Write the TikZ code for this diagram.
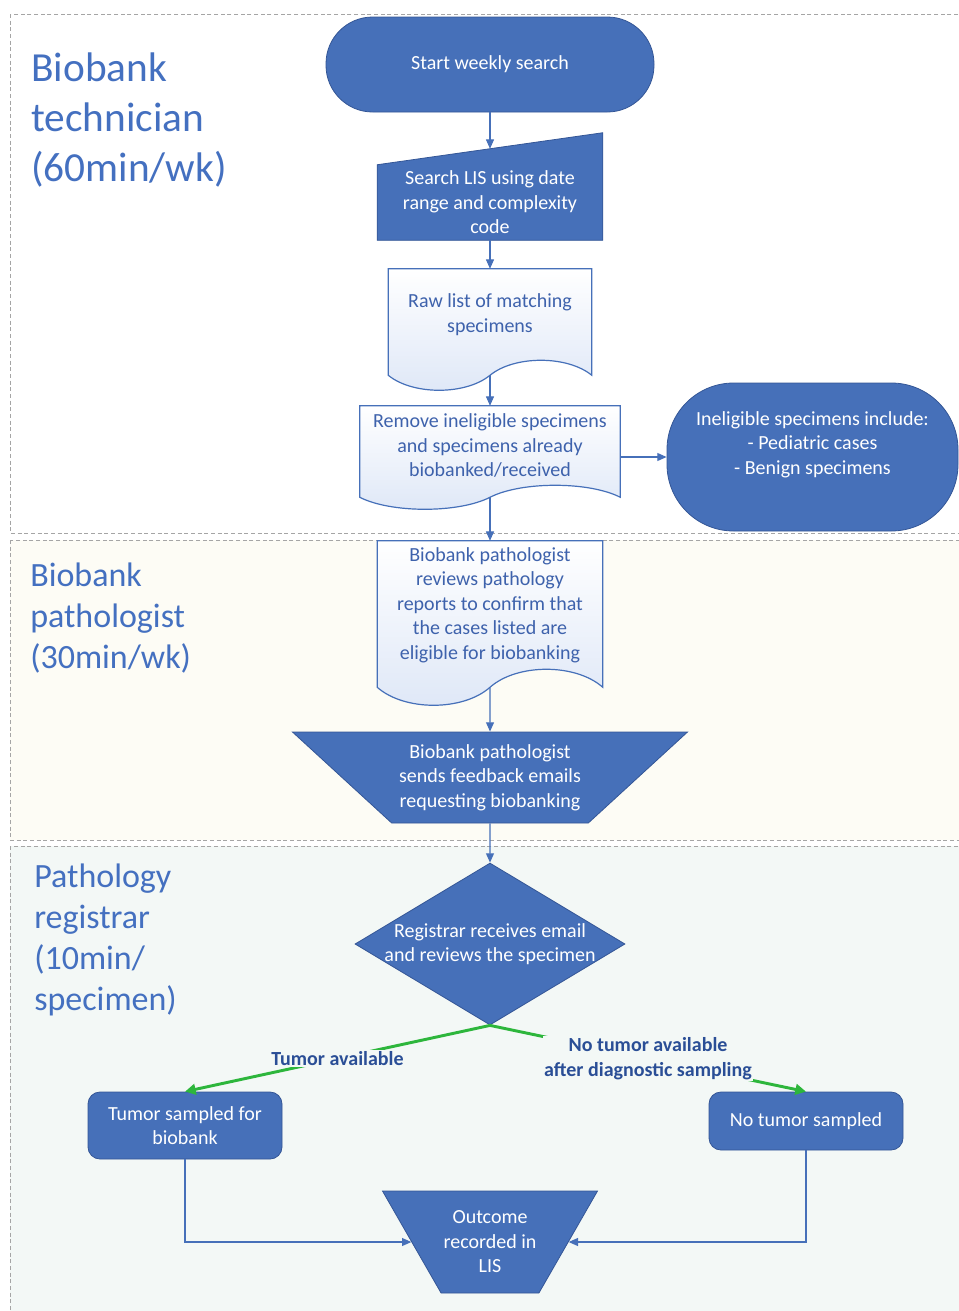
\documentclass[tikz,border=0pt]{standalone}
\usepackage{fontspec}
\setmainfont{Carlito}
\usetikzlibrary{arrows.meta, shapes.geometric, calc, backgrounds}

\definecolor{boxblue}{RGB}{70,112,185}
\definecolor{edgeblue}{RGB}{52,86,150}
\definecolor{txtblue}{RGB}{62,98,172}
\definecolor{lanetxt}{RGB}{68,112,192}
\definecolor{lblblue}{RGB}{42,78,150}
\definecolor{docfill}{RGB}{222,231,247}
\definecolor{lanecream}{RGB}{253,252,245}
\definecolor{lanemint}{RGB}{243,248,246}
\definecolor{laneedge}{RGB}{165,165,165}
\definecolor{yesgreen}{RGB}{45,182,60}

\newcommand{\boxfont}{\fontsize{15}{18.4}\selectfont}
\newcommand{\bigfont}{\fontsize{31}{37.5}\selectfont}
\newcommand{\midfont}{\fontsize{25.5}{30.6}\selectfont}

% document outline round a text node: #1 node, #2 wave height
\newcommand{\docshape}[2]{%
  \begin{pgfonlayer}{background}
  \draw[docline] (#1.north west) -- (#1.north east) -- ($(#1.south east)+(0,#2)$)
    .. controls ($(#1.south east)!0.12!(#1.south west)+(0,-#2/3)$)
            and ($(#1.south east)!0.38!(#1.south west)+(0,-#2/3)$) .. ($(#1.south)+(0,#2)$)
    .. controls ($(#1.south east)!0.62!(#1.south west)+(0,7*#2/3)$)
            and ($(#1.south east)!0.88!(#1.south west)+(0,7*#2/3)$) .. ($(#1.south west)+(0,#2)$)
    -- cycle;
  \end{pgfonlayer}
  \coordinate (#1-b) at ($(#1.south)+(0,#2)$);
}

\begin{document}
\begin{tikzpicture}[
    x=0.75pt, y=-0.75pt,
    lane/.style={draw=laneedge, densely dashed, line width=0.6pt},
    lanelabel/.style={anchor=west, align=left, inner sep=0pt, text=lanetxt},
    boxtext/.style={text=white, align=center, inner sep=0pt, font=\boxfont},
    term/.style={boxtext, fill=boxblue, draw=edgeblue, line width=0.6pt},
    proc/.style={term, rounded corners=9pt},
    doctext/.style={text=txtblue, align=center, inner sep=0pt, font=\boxfont},
    docline/.style={draw=boxblue, line width=0.9pt, top color=white, bottom color=docfill},
    trap/.style={term, trapezium, shape border rotate=180, trapezium stretches body},
    dia/.style={term, diamond, inner sep=0pt},
    arr/.style={-{Triangle[length=7pt,width=6pt]}, draw=boxblue, line width=0.8pt},
    garr/.style={-{Triangle[length=8pt,width=8pt]}, draw=yesgreen, line width=2.2pt},
    glabel/.style={fill=lanemint, text=lblblue, font=\boxfont\bfseries, align=center, inner sep=1pt},
]
\useasboundingbox (0,0) rectangle (959,1311);

% swimlanes
\begin{pgfonlayer}{background}
\draw[lane, fill=white] (10,14) rectangle (975,533);
\draw[lane, fill=lanecream] (10,540) rectangle (975,840);
\draw[lane, fill=lanemint] (10,846) rectangle (975,1325);
\end{pgfonlayer}

\node[lanelabel, font=\bigfont] (tech) at (31,120) {Biobank\\technician\\(60min/wk)};
\node[lanelabel, font=\midfont] (path) at (30,618) {Biobank\\pathologist\\(30min/wk)};
\node[lanelabel, font=\midfont] (regi) at (34,940) {Pathology\\registrar\\(10min/\\specimen)};

% technician
\node[term, minimum width=246pt, minimum height=71.25pt, rounded corners=35pt] (start) at (490,64.5) {Start weekly search};

\node[boxtext, minimum width=168.75pt, minimum height=56.25pt] (search) at (490,202.5) {Search LIS using date\\range and complexity\\code};
\begin{pgfonlayer}{background}
\fill[boxblue, draw=edgeblue, line width=0.6pt] (search.south west) -- (search.north west)
  -- ($(search.north east)+(0,-32)$) -- (search.south east) -- cycle;
\end{pgfonlayer}
\coordinate (search-t) at ($(search.north)+(0,-16)$);

\node[doctext, minimum width=152.25pt, minimum height=68.25pt] (raw) at (490,314.5) {Raw list of matching\\specimens};
\docshape{raw}{15}

\node[doctext, minimum width=195pt, minimum height=59.25pt] (remove) at (490,445.5) {Remove ineligible specimens\\and specimens already\\biobanked/received};
\docshape{remove}{12}

\node[term, minimum width=218.25pt, minimum height=111pt, rounded corners=50pt, text depth=21.5pt] (inel) at (812.5,457) {Ineligible specimens include:\\- Pediatric cases\\- Benign specimens};

% pathologist
\node[doctext, minimum width=168.75pt, minimum height=96pt] (review) at (490,605) {Biobank pathologist\\reviews pathology\\reports to confirm that\\the cases listed are\\eligible for biobanking};
\docshape{review}{18}

\node[trap, trapezium left angle=33.8, trapezium right angle=33.8, minimum width=296.25pt, minimum height=68.25pt] (fb) at (490,777.5) {Biobank pathologist\\sends feedback emails\\requesting biobanking};

% registrar
\node[dia, minimum width=202.5pt, minimum height=121.5pt,
      label={[boxtext]center:Registrar receives email\\and reviews the specimen}] (rev) at (490,944) {};

\node[proc, minimum width=145.5pt, minimum height=50.25pt] (tsb) at (185,1125.5) {Tumor sampled for\\biobank};
\node[proc, minimum width=145.5pt, minimum height=43.5pt] (nts) at (806,1121) {No tumor sampled};

\node[trap, trapezium left angle=46.7, trapezium right angle=46.7, minimum width=161.25pt, minimum height=76.5pt] (out) at (490,1242) {Outcome\\recorded in\\LIS};

% connectors
\draw[arr] (start) -- (search-t);
\draw[arr] (search) -- (raw);
\draw[arr] (raw-b) -- (remove);
\draw[arr] (remove.east |- inel.west) -- (inel.west);
\draw[arr] (remove-b) -- (review);
\draw[arr] (review-b) -- (fb);
\draw[arr] (fb) -- (rev);
\draw[garr] (rev.south) -- node[glabel] {Tumor available} (tsb.north);
\draw[garr] (rev.south) -- node[glabel] {No tumor available\\after diagnostic sampling} (nts.north);
\draw[arr] (tsb.south) |- (out);
\draw[arr] (nts.south) |- (out);
\end{tikzpicture}
\end{document}
